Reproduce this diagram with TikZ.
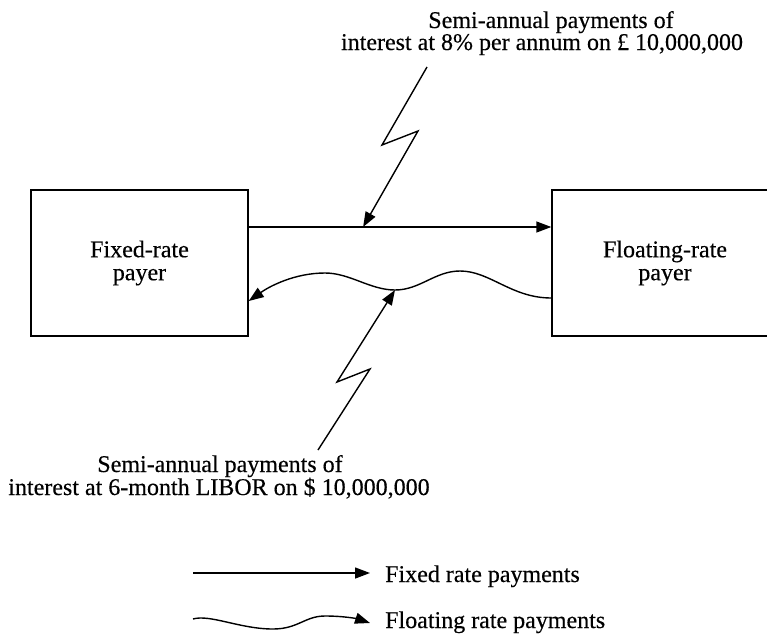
\documentclass[tikz,border=0pt]{standalone}
\usepackage{fontspec}
\setmainfont{Liberation Serif}[FakeBold=0.35]
\usetikzlibrary{arrows.meta}
\begin{document}
\begin{tikzpicture}[x=1pt,y=-1pt,
  every node/.style={font=\fontsize{24}{23}\selectfont},
  payerbox/.style={draw, line width=1.4pt, rectangle, inner sep=0pt, align=center, minimum height=146pt},
  flow/.style={line width=1.4pt, line join=miter, -{Triangle[length=15pt,width=11pt]}},
  caption/.style={anchor=base, inner sep=0pt},
]
\useasboundingbox (0,0) rectangle (767,634);
\clip (0,0) rectangle (767,634);
\fill[white] (0,0) rectangle (767,634);

% the two counterparties
\node[payerbox, minimum width=217pt] (fixed) at (139.5,263) {Fixed-rate\\payer};
\node[payerbox, minimum width=226pt] (floating) at (665,263) {Floating-rate\\payer};

% fixed leg (straight) and floating leg (wavy)
\draw[flow] ([yshift=36pt]fixed.east) -- coordinate[pos=0.378] (hitA) ([yshift=36pt]floating.west);
\coordinate (wavestart) at ([yshift=-35pt]floating.west);
\coordinate (waveend) at ([yshift=-38pt]fixed.east);
\draw[flow] (wavestart) .. controls +(-40,0) and (490,271) .. (460,271)
  .. controls (435,271) and (420,290) .. (395,290) coordinate (trough)
  .. controls (370,290) and (350,273) .. (325,273)
  .. controls (295,273) and (270,286) .. (waveend);

% captions with lightning pointers
\node[caption] (topA) at (551,28) {Semi-annual payments of};
\node[caption] (topB) at (542,50) {interest at 8\% per annum on £ 10,000,000};
\coordinate (boltAfoot) at (427,67);
\draw[flow] (boltAfoot) -- (382,145) -- (418,131) -- (hitA);

\node[caption] (botA) at (220,472) {Semi-annual payments of};
\node[caption] (botB) at (219,495) {interest at 6-month LIBOR on \$ 10,000,000};
\coordinate (boltBfoot) at (318,450);
\draw[flow] (boltBfoot) -- (370,369) -- (337,382) -- (trough);

% key
\coordinate (legA1) at (193,573);
\coordinate (legA2) at (370,573);
\draw[flow] (legA1) -- (legA2);
\node[caption, anchor=base west] (legtxtA) at (385,582) {Fixed rate payments};
\coordinate (legB1) at (193,619);
\coordinate (legB2) at (370,623);
\draw[flow] (legB1) .. controls (210,614) and (240,629) .. (273,629)
  .. controls (298,629) and (305,616) .. (325,616)
  .. controls (345,616) and (358,619) .. (legB2);
\node[caption, anchor=base west] (legtxtB) at (385,628) {Floating rate payments};
\end{tikzpicture}
\end{document}
